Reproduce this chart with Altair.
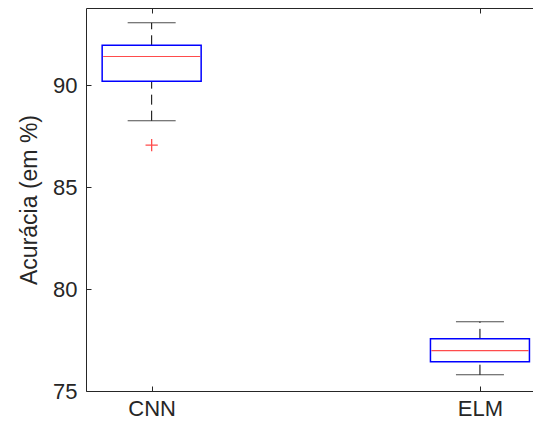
import json
import altair as alt
import pandas as pd

# ---- data ----
categories = ["CNN", "ELM"]
lower_whisker = [88.27, 75.80]
q1 = [90.21, 76.44]
median = [91.42, 76.98]
q3 = [91.97, 77.56]
upper_whisker = [93.07, 78.40]
outlier_group = ["CNN"]
outlier_value = [87.07]
y_ticks = [75, 80, 85, 90]
y_title = "Acurácia (em %)"

positions = list(range(1, len(categories) + 1))
df = pd.DataFrame({"cat": categories, "pos": positions, "lo": lower_whisker,
                   "q1": q1, "med": median, "q3": q3, "hi": upper_whisker})
out = pd.DataFrame({"pos": [categories.index(c) + 1 for c in outlier_group],
                    "val": outlier_value})

label_expr = json.dumps(categories) + "[datum.value - 1]"
INK = "#262626"
FONT = "Liberation Sans"
W, H = 447, 383

xs = alt.Scale(domain=[0.8, 2.1616], nice=False, zero=False, padding=0)
ys = alt.Scale(domain=[75, 93.8], nice=False, zero=False, padding=0)

main_x = alt.Axis(orient="bottom", values=positions, labelExpr=label_expr, ticks=False,
                  tickSize=0, domain=True, domainColor=INK, domainWidth=1, labelFontSize=22,
                  labelColor=INK, labelFont=FONT, labelPadding=7, title=None, grid=False)
tick_x_bottom = alt.Axis(orient="bottom", values=positions, labels=False, domain=False,
                         ticks=True, tickSize=5, tickColor=INK, offset=-5, title=None, grid=False)
top_domain = alt.Axis(orient="top", labels=False, ticks=False, domain=True, domainColor=INK,
                      domainWidth=1, title=None, grid=False)
top_ticks = alt.Axis(orient="top", values=positions, labels=False, domain=False, ticks=True,
                     tickSize=5, tickColor=INK, offset=-5, title=None, grid=False)
main_y = alt.Axis(orient="left", values=y_ticks, ticks=False, tickSize=0, domain=True,
                  domainColor=INK, domainWidth=1, labelFontSize=22, labelColor=INK,
                  labelFont=FONT, labelPadding=9, title=y_title, titleFontSize=23,
                  titleFont=FONT, titleColor=INK, titleFontWeight="normal", titlePadding=11,
                  grid=False)
tick_y = alt.Axis(orient="left", values=y_ticks, labels=False, domain=False, ticks=True,
                  tickSize=5, tickColor=INK, offset=-5, title=None, grid=False)

base = alt.Chart(df)

whisk_hi = base.mark_rule(color="black", strokeWidth=1, strokeDash=[10, 6]).encode(
    x=alt.X("pos:Q", scale=xs, axis=main_x),
    y=alt.Y("q3:Q", scale=ys, axis=main_y),
    y2="hi:Q",
)
whisk_lo = base.mark_rule(color="black", strokeWidth=1, strokeDash=[10, 6]).encode(
    x=alt.X("pos:Q", scale=xs, axis=None),
    y=alt.Y("lo:Q", scale=ys, axis=None),
    y2="q1:Q",
)
cap_hi = base.mark_tick(color="black", orient="horizontal", size=48, thickness=1).encode(
    x=alt.X("pos:Q", scale=xs, axis=tick_x_bottom),
    y=alt.Y("hi:Q", scale=ys, axis=tick_y),
)
cap_lo = base.mark_tick(color="black", orient="horizontal", size=48, thickness=1).encode(
    x=alt.X("pos:Q", scale=xs, axis=None),
    y=alt.Y("lo:Q", scale=ys, axis=None),
)
box = base.mark_bar(size=99, fillOpacity=0, stroke="#0000ff", strokeWidth=1.5).encode(
    x=alt.X("pos:Q", scale=xs, axis=top_domain),
    y=alt.Y("q1:Q", scale=ys, axis=None),
    y2="q3:Q",
)
med = base.mark_tick(color="#ff0000", orient="horizontal", size=97, thickness=1.2).encode(
    x=alt.X("pos:Q", scale=xs, axis=top_ticks),
    y=alt.Y("med:Q", scale=ys, axis=None),
)
outl = alt.Chart(out).mark_point(shape="M-1,0H1M0,-1V1", size=150, filled=False,
                                 color="#ff0000", strokeWidth=1.3).encode(
    x=alt.X("pos:Q", scale=xs, axis=None),
    y=alt.Y("val:Q", scale=ys, axis=None),
)

chart = alt.layer(whisk_hi, whisk_lo, cap_hi, cap_lo, box, med, outl).resolve_axis(
    x="independent", y="independent"
).properties(
    width=W, height=H,
    autosize=alt.AutoSizeParams(type="none"),
    padding={"left": 78, "top": 0, "right": 0, "bottom": 28},
    background="white",
).configure_view(stroke=None)

chart.save("out.html", embed_options={"renderer": "svg", "actions": False})
